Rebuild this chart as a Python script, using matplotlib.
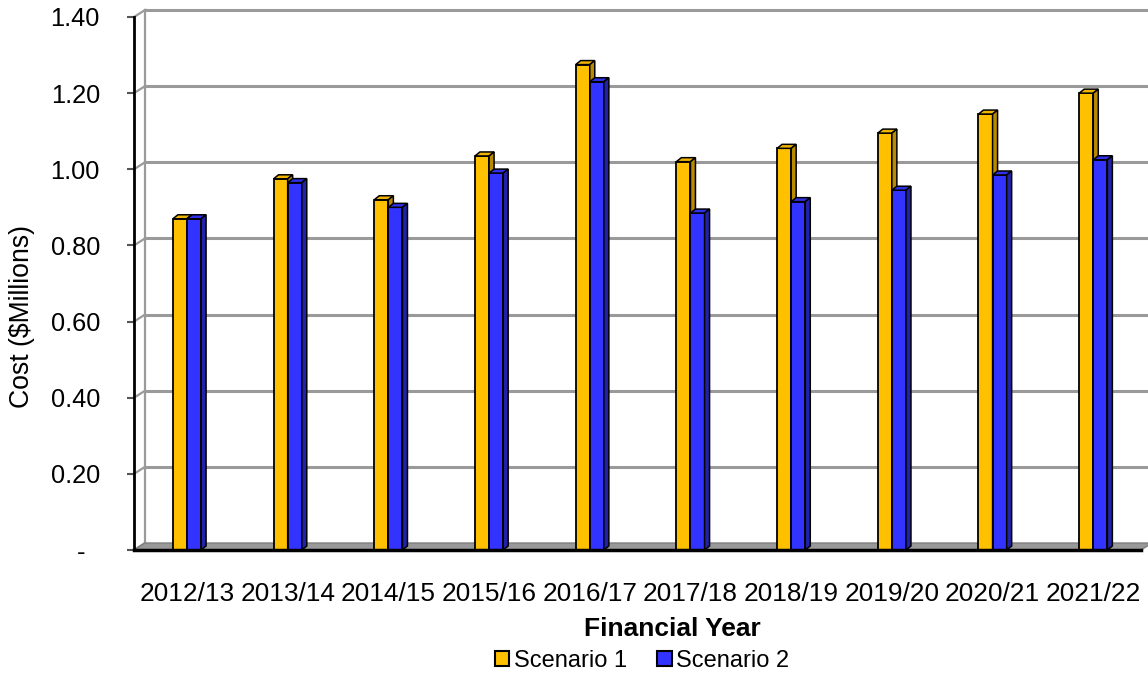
import numpy as np
import matplotlib.pyplot as plt
from matplotlib.patches import Polygon, Patch
from matplotlib.lines import Line2D
from matplotlib.transforms import IdentityTransform

years = ["2012/13", "2013/14", "2014/15", "2015/16", "2016/17",
         "2017/18", "2018/19", "2019/20", "2020/21", "2021/22"]
scenario1 = [0.87, 0.975, 0.92, 1.035, 1.275, 1.02, 1.055, 1.095, 1.145, 1.20]
scenario2 = [0.87, 0.965, 0.90, 0.99, 1.23, 0.885, 0.915, 0.945, 0.985, 1.025]
yticks = [0, 0.2, 0.4, 0.6, 0.8, 1.0, 1.2, 1.4]
ytick_labels = ["-  ", "0.20", "0.40", "0.60", "0.80", "1.00", "1.20", "1.40"]

plt.rcParams['font.family'] = ['Liberation Sans', 'DejaVu Sans']

fig = plt.figure(figsize=(11.48, 6.75), dpi=100)
ax = fig.add_axes([134 / 1148, 125 / 675, 1007 / 1148, 533 / 675])
xmin, xmax = -0.526, 9.474
ax.set_xlim(xmin, xmax)
ax.set_ylim(0, 1.4)

# pixel offsets for the fake 3d depth
wall_dx, wall_dy = 11, 7
bar_dx, bar_dy = 5, 4
ident = IdentityTransform()


def px(xd, yd):
    return ax.transData.transform((xd, yd))


def line(p0, p1, **kw):
    ax.add_line(Line2D([p0[0], p1[0]], [p0[1], p1[1]], transform=ident,
                       clip_on=False, **kw))


# back wall gridlines + the little diagonals from the axis
grid_c = '#9a9a9a'
for v in yticks:
    a = px(xmin, v)
    b = a + (wall_dx, wall_dy)
    c = px(xmax, v) + (wall_dx + 20, wall_dy)
    line(a, b, color=grid_c, lw=1.6, zorder=1)
    if v > 0:
        line(b, c, color=grid_c, lw=2.2, zorder=1)
p0 = px(xmin, 0) + (wall_dx, wall_dy)
p1 = px(xmin, 1.4) + (wall_dx, wall_dy)
line(p0, p1, color=grid_c, lw=1.6, zorder=1)

# floor
f0, f1 = px(xmin, 0), px(xmax, 0)
floor = Polygon([f0, f1, f1 + (wall_dx, wall_dy), f0 + (wall_dx, wall_dy)],
                closed=True, facecolor='#999999', edgecolor='#7f7f7f', lw=1,
                transform=ident, clip_on=False, zorder=2)
ax.add_patch(floor)

x = np.arange(len(years))
w = 0.14


def bar3d(xs, vals, front, top, side, z):
    ax.bar(xs, vals, width=w, color=front, edgecolor='black', lw=1.3,
           zorder=z)
    for xc, v in zip(xs, vals):
        tl, tr, br = px(xc - w / 2, v), px(xc + w / 2, v), px(xc + w / 2, 0)
        d = np.array([bar_dx, bar_dy])
        ax.add_patch(Polygon([tl, tr, tr + d, tl + d], closed=True,
                             facecolor=top, edgecolor='black', lw=1.1,
                             transform=ident, clip_on=False, zorder=z + 0.1))
        ax.add_patch(Polygon([br, tr, tr + d, br + d], closed=True,
                             facecolor=side, edgecolor='black', lw=1.1,
                             transform=ident, clip_on=False, zorder=z + 0.1))


bar3d(x - w / 2, scenario1, '#FFC000', '#F0B400', '#B88A00', 3)
bar3d(x + w / 2, scenario2, '#3333FF', '#3030E8', '#2222A8', 4)

# axes dressing
for s in ['top', 'right']:
    ax.spines[s].set_visible(False)
ax.spines['left'].set_linewidth(2)
ax.spines['bottom'].set_linewidth(2.5)
ax.spines['left'].set_zorder(5)
ax.spines['bottom'].set_zorder(5)

ax.set_yticks(yticks)
ax.set_yticklabels(ytick_labels)
ax.tick_params(axis='y', length=5, width=1.5, color='#555555', pad=19.5,
               labelsize=18.3)
ax.set_xticks(x)
ax.set_xticklabels(years)
ax.tick_params(axis='x', length=0, pad=23, labelsize=18.9)

ax.set_ylabel("Cost ($Millions)", fontsize=19.2)
ax.yaxis.set_label_coords(-0.0988, (550 - 316) / 533)
ax.set_xlabel("Financial Year", fontsize=19, fontweight='bold')
ax.xaxis.set_label_coords((672 - 134) / 1007, -(629 - 550) / 533)
ax.xaxis.label.set_va('center')

handles = [Patch(facecolor='#FFC000', edgecolor='black', lw=1.5),
           Patch(facecolor='#3333FF', edgecolor='black', lw=1.5)]
fig.legend(handles, ["Scenario 1", "Scenario 2"], loc='center',
           bbox_to_anchor=(642 / 1148, 1 - 661 / 675), ncol=2, frameon=False,
           fontsize=17, handlelength=0.62, handleheight=0.6, handletextpad=0.2,
           columnspacing=1.27)

fig.savefig('out.png', dpi=100)
